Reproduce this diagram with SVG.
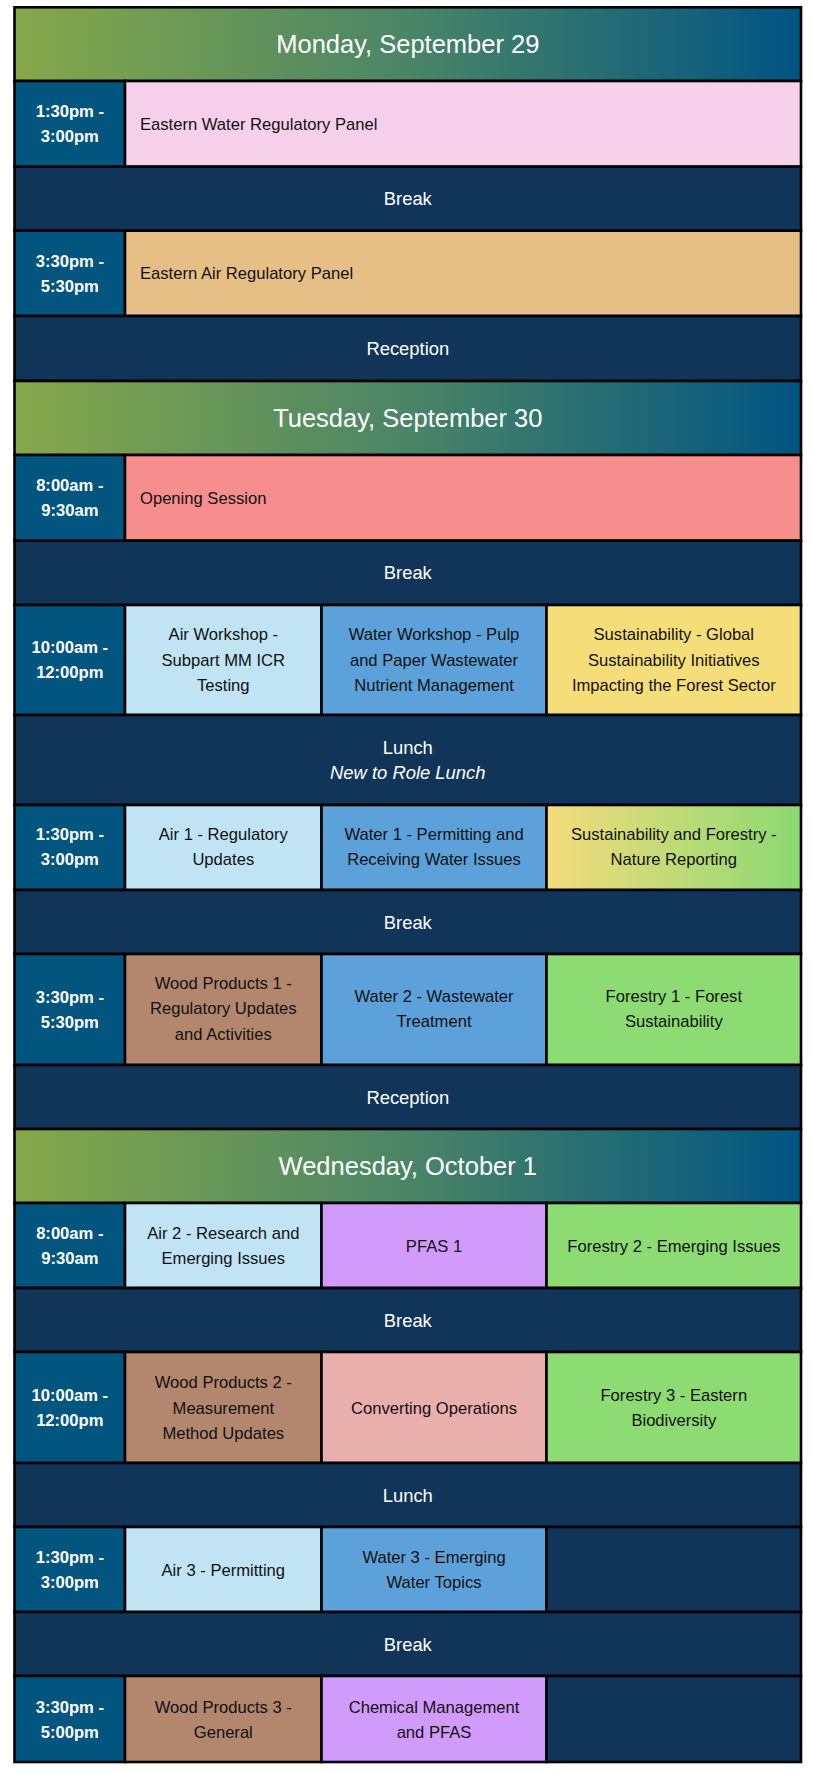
<svg xmlns="http://www.w3.org/2000/svg" width="813" height="1773" viewBox="0 0 813 1773">
<defs>
<linearGradient id="hdr" x1="0" y1="0" x2="1" y2="0">
<stop offset="0" stop-color="#86a84a"/>
<stop offset="0.5" stop-color="#4a8566"/>
<stop offset="1" stop-color="#005482"/>
</linearGradient>
<linearGradient id="yg" x1="0" y1="0" x2="1" y2="0">
<stop offset="0" stop-color="#f5dc7c"/>
<stop offset="1" stop-color="#8bd972"/>
</linearGradient>
</defs>
<style>
rect{stroke:#000;stroke-width:2.6}
.hdr{fill:url(#hdr)}
.time{fill:#02557f}
.navy{fill:#113559}
.pink{fill:#f6d0ea}
.tan{fill:#e5bf86}
.salmon{fill:#f78e8e}
.lb{fill:#c0e4f3}
.mb{fill:#5ca1d9}
.yel{fill:#f5dd7a}
.yg{fill:url(#yg)}
.grn{fill:#8ddb73}
.brn{fill:#b2876d}
.pur{fill:#d19bfc}
.conv{fill:#e9afad}
text{font-family:"Liberation Sans",Arial,sans-serif;font-size:16.6px;text-anchor:middle;fill:#111}
.h{font-size:25.5px;fill:#fff}
.t{font-weight:bold;fill:#fff}
.w{fill:#fff;font-size:18.4px}
.l{text-anchor:start}
.i{font-style:italic}
</style>

<g id="monday">
<g id="mon-header"><rect class="hdr" x="14.5" y="7.3" width="786.5" height="73.7"/><text class="h" x="407.8" y="53">Monday, September 29</text></g>
<g id="mon-t1"><rect class="time" x="14.5" y="81" width="110.5" height="85.7"/><text class="t" x="69.8" y="117.3">1:30pm -</text><text class="t" x="69.8" y="142.3">3:00pm</text></g>
<g id="mon-s1"><rect class="pink" x="125" y="81" width="676" height="85.7"/><text class="l" x="140" y="129.5">Eastern Water Regulatory Panel</text></g>
<g id="mon-break"><rect class="navy" x="14.5" y="166.7" width="786.5" height="64"/><text class="w" x="407.8" y="205.3">Break</text></g>
<g id="mon-t2"><rect class="time" x="14.5" y="230.7" width="110.5" height="85.3"/><text class="t" x="69.8" y="266.8">3:30pm -</text><text class="t" x="69.8" y="291.8">5:30pm</text></g>
<g id="mon-s2"><rect class="tan" x="125" y="230.7" width="676" height="85.3"/><text class="l" x="140" y="279.3">Eastern Air Regulatory Panel</text></g>
<g id="mon-reception"><rect class="navy" x="14.5" y="316" width="786.5" height="65"/><text class="w" x="407.8" y="355.1">Reception</text></g>
</g>

<g id="tuesday">
<g id="tue-header"><rect class="hdr" x="14.5" y="381" width="786.5" height="74"/><text class="h" x="407.8" y="427">Tuesday, September 30</text></g>
<g id="tue-t1"><rect class="time" x="14.5" y="455" width="110.5" height="85.7"/><text class="t" x="69.8" y="491.3">8:00am -</text><text class="t" x="69.8" y="516.3">9:30am</text></g>
<g id="tue-opening"><rect class="salmon" x="125" y="455" width="676" height="85.7"/><text class="l" x="140" y="503.8">Opening Session</text></g>
<g id="tue-break1"><rect class="navy" x="14.5" y="540.7" width="786.5" height="64.3"/><text class="w" x="407.8" y="579.4">Break</text></g>
<g id="tue-t2"><rect class="time" x="14.5" y="605" width="110.5" height="110"/><text class="t" x="69.8" y="653">10:00am -</text><text class="t" x="69.8" y="678">12:00pm</text></g>
<g id="tue-airws"><rect class="lb" x="125" y="605" width="196.5" height="110"/><text x="223.3" y="640">Air Workshop -</text><text x="223.3" y="665.5">Subpart MM ICR</text><text x="223.3" y="691">Testing</text></g>
<g id="tue-waterws"><rect class="mb" x="321.5" y="605" width="225" height="110"/><text x="434" y="640">Water Workshop - Pulp</text><text x="434" y="665.5">and Paper Wastewater</text><text x="434" y="691">Nutrient Management</text></g>
<g id="tue-sust"><rect class="yel" x="546.5" y="605" width="254.5" height="110"/><text x="673.8" y="640">Sustainability - Global</text><text x="673.8" y="665.5">Sustainability Initiatives</text><text x="673.8" y="691">Impacting the Forest Sector</text></g>
<g id="tue-lunch"><rect class="navy" x="14.5" y="715" width="786.5" height="90"/><text class="w" x="407.8" y="754.3">Lunch</text><text class="w i" x="407.8" y="778.9">New to Role Lunch</text></g>
<g id="tue-t3"><rect class="time" x="14.5" y="805" width="110.5" height="85"/><text class="t" x="69.8" y="840.3">1:30pm -</text><text class="t" x="69.8" y="865.3">3:00pm</text></g>
<g id="tue-air1"><rect class="lb" x="125" y="805" width="196.5" height="85"/><text x="223.3" y="840.3">Air 1 - Regulatory</text><text x="223.3" y="865.3">Updates</text></g>
<g id="tue-water1"><rect class="mb" x="321.5" y="805" width="225" height="85"/><text x="434" y="840.3">Water 1 - Permitting and</text><text x="434" y="865.3">Receiving Water Issues</text></g>
<g id="tue-sustfor"><rect class="yg" x="546.5" y="805" width="254.5" height="85"/><text x="673.8" y="840.3">Sustainability and Forestry -</text><text x="673.8" y="865.3">Nature Reporting</text></g>
<g id="tue-break2"><rect class="navy" x="14.5" y="890" width="786.5" height="64"/><text class="w" x="407.8" y="928.6">Break</text></g>
<g id="tue-t4"><rect class="time" x="14.5" y="954" width="110.5" height="111"/><text class="t" x="69.8" y="1002.7">3:30pm -</text><text class="t" x="69.8" y="1027.7">5:30pm</text></g>
<g id="tue-wood1"><rect class="brn" x="125" y="954" width="196.5" height="111"/><text x="223.3" y="988.7">Wood Products 1 -</text><text x="223.3" y="1014.3">Regulatory Updates</text><text x="223.3" y="1040">and Activities</text></g>
<g id="tue-water2"><rect class="mb" x="321.5" y="954" width="225" height="111"/><text x="434" y="1002">Water 2 - Wastewater</text><text x="434" y="1027">Treatment</text></g>
<g id="tue-forestry1"><rect class="grn" x="546.5" y="954" width="254.5" height="111"/><text x="673.8" y="1002">Forestry 1 - Forest</text><text x="673.8" y="1027">Sustainability</text></g>
<g id="tue-reception"><rect class="navy" x="14.5" y="1065" width="786.5" height="64"/><text class="w" x="407.8" y="1103.6">Reception</text></g>
</g>

<g id="wednesday">
<g id="wed-header"><rect class="hdr" x="14.5" y="1129" width="786.5" height="74"/><text class="h" x="407.8" y="1175">Wednesday, October 1</text></g>
<g id="wed-t1"><rect class="time" x="14.5" y="1203" width="110.5" height="85"/><text class="t" x="69.8" y="1239">8:00am -</text><text class="t" x="69.8" y="1264">9:30am</text></g>
<g id="wed-air2"><rect class="lb" x="125" y="1203" width="196.5" height="85"/><text x="223.3" y="1239">Air 2 - Research and</text><text x="223.3" y="1264">Emerging Issues</text></g>
<g id="wed-pfas1"><rect class="pur" x="321.5" y="1203" width="225" height="85"/><text x="434" y="1251.5">PFAS 1</text></g>
<g id="wed-forestry2"><rect class="grn" x="546.5" y="1203" width="254.5" height="85"/><text x="673.8" y="1251.5">Forestry 2 - Emerging Issues</text></g>
<g id="wed-break1"><rect class="navy" x="14.5" y="1288" width="786.5" height="64"/><text class="w" x="407.8" y="1326.6">Break</text></g>
<g id="wed-t2"><rect class="time" x="14.5" y="1352" width="110.5" height="111"/><text class="t" x="69.8" y="1401">10:00am -</text><text class="t" x="69.8" y="1426">12:00pm</text></g>
<g id="wed-wood2"><rect class="brn" x="125" y="1352" width="196.5" height="111"/><text x="223.3" y="1388">Wood Products 2 -</text><text x="223.3" y="1413.5">Measurement</text><text x="223.3" y="1439">Method Updates</text></g>
<g id="wed-converting"><rect class="conv" x="321.5" y="1352" width="225" height="111"/><text x="434" y="1413.5">Converting Operations</text></g>
<g id="wed-forestry3"><rect class="grn" x="546.5" y="1352" width="254.5" height="111"/><text x="673.8" y="1401">Forestry 3 - Eastern</text><text x="673.8" y="1426">Biodiversity</text></g>
<g id="wed-lunch"><rect class="navy" x="14.5" y="1463" width="786.5" height="64"/><text class="w" x="407.8" y="1501.6">Lunch</text></g>
<g id="wed-t3"><rect class="time" x="14.5" y="1527" width="110.5" height="85"/><text class="t" x="69.8" y="1563">1:30pm -</text><text class="t" x="69.8" y="1588">3:00pm</text></g>
<g id="wed-air3"><rect class="lb" x="125" y="1527" width="196.5" height="85"/><text x="223.3" y="1575.5">Air 3 - Permitting</text></g>
<g id="wed-water3"><rect class="mb" x="321.5" y="1527" width="225" height="85"/><text x="434" y="1563">Water 3 - Emerging</text><text x="434" y="1588">Water Topics</text></g>
<g id="wed-empty1"><rect class="navy" x="546.5" y="1527" width="254.5" height="85"/></g>
<g id="wed-break2"><rect class="navy" x="14.5" y="1612" width="786.5" height="64"/><text class="w" x="407.8" y="1650.6">Break</text></g>
<g id="wed-t4"><rect class="time" x="14.5" y="1676" width="110.5" height="86"/><text class="t" x="69.8" y="1712.5">3:30pm -</text><text class="t" x="69.8" y="1737.5">5:00pm</text></g>
<g id="wed-wood3"><rect class="brn" x="125" y="1676" width="196.5" height="86"/><text x="223.3" y="1712.5">Wood Products 3 -</text><text x="223.3" y="1737.5">General</text></g>
<g id="wed-chem"><rect class="pur" x="321.5" y="1676" width="225" height="86"/><text x="434" y="1712.5">Chemical Management</text><text x="434" y="1737.5">and PFAS</text></g>
<g id="wed-empty2"><rect class="navy" x="546.5" y="1676" width="254.5" height="86"/></g>
</g>
<g id="connectors"/>
</svg>
